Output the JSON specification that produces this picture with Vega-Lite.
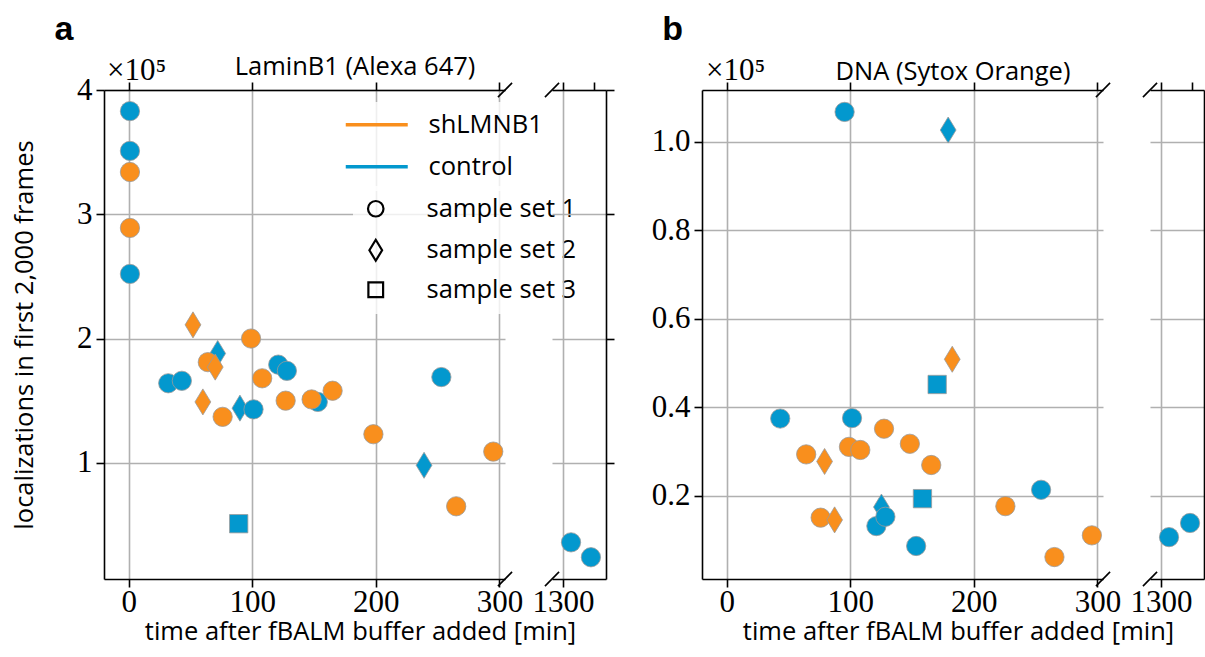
{
  "$schema": "https://vega.github.io/schema/vega-lite/v6.json",
  "padding": {"left": 12, "top": 12, "right": 0, "bottom": 0},
  "background": "white",
  "datasets": {
    "lamin": [
      {"t": 1, "n": 3.83, "group": "control", "set": "sample set 1"},
      {"t": 1, "n": 3.51, "group": "control", "set": "sample set 1"},
      {"t": 1, "n": 2.52, "group": "control", "set": "sample set 1"},
      {"t": 72, "n": 1.88, "group": "control", "set": "sample set 2"},
      {"t": 32, "n": 1.64, "group": "control", "set": "sample set 1"},
      {"t": 43, "n": 1.66, "group": "control", "set": "sample set 1"},
      {"t": 121, "n": 1.79, "group": "control", "set": "sample set 1"},
      {"t": 128, "n": 1.74, "group": "control", "set": "sample set 1"},
      {"t": 90, "n": 1.44, "group": "control", "set": "sample set 2"},
      {"t": 101, "n": 1.43, "group": "control", "set": "sample set 1"},
      {"t": 153, "n": 1.49, "group": "control", "set": "sample set 1"},
      {"t": 253, "n": 1.69, "group": "control", "set": "sample set 1"},
      {"t": 239, "n": 0.98, "group": "control", "set": "sample set 2"},
      {"t": 89, "n": 0.51, "group": "control", "set": "sample set 3"},
      {"t": 1306.5, "n": 0.36, "group": "control", "set": "sample set 1"},
      {"t": 1322.6, "n": 0.24, "group": "control", "set": "sample set 1"},
      {"t": 1, "n": 3.34, "group": "shLMNB1", "set": "sample set 1"},
      {"t": 1, "n": 2.89, "group": "shLMNB1", "set": "sample set 1"},
      {"t": 52, "n": 2.11, "group": "shLMNB1", "set": "sample set 2"},
      {"t": 99, "n": 2.0, "group": "shLMNB1", "set": "sample set 1"},
      {"t": 64, "n": 1.81, "group": "shLMNB1", "set": "sample set 1"},
      {"t": 70, "n": 1.77, "group": "shLMNB1", "set": "sample set 2"},
      {"t": 108, "n": 1.68, "group": "shLMNB1", "set": "sample set 1"},
      {"t": 60, "n": 1.49, "group": "shLMNB1", "set": "sample set 2"},
      {"t": 76, "n": 1.37, "group": "shLMNB1", "set": "sample set 1"},
      {"t": 127, "n": 1.5, "group": "shLMNB1", "set": "sample set 1"},
      {"t": 148, "n": 1.51, "group": "shLMNB1", "set": "sample set 1"},
      {"t": 165, "n": 1.58, "group": "shLMNB1", "set": "sample set 1"},
      {"t": 198, "n": 1.23, "group": "shLMNB1", "set": "sample set 1"},
      {"t": 295, "n": 1.09, "group": "shLMNB1", "set": "sample set 1"},
      {"t": 265, "n": 0.65, "group": "shLMNB1", "set": "sample set 1"}
    ],
    "dna": [
      {"t": 95.4, "n": 1.068, "group": "control", "set": "sample set 1"},
      {"t": 179.2, "n": 1.027, "group": "control", "set": "sample set 2"},
      {"t": 170.3, "n": 0.452, "group": "control", "set": "sample set 3"},
      {"t": 43.3, "n": 0.375, "group": "control", "set": "sample set 1"},
      {"t": 101.4, "n": 0.376, "group": "control", "set": "sample set 1"},
      {"t": 158.4, "n": 0.194, "group": "control", "set": "sample set 3"},
      {"t": 254.4, "n": 0.214, "group": "control", "set": "sample set 1"},
      {"t": 121.1, "n": 0.132, "group": "control", "set": "sample set 1"},
      {"t": 125.2, "n": 0.175, "group": "control", "set": "sample set 2"},
      {"t": 128.4, "n": 0.153, "group": "control", "set": "sample set 1"},
      {"t": 153.3, "n": 0.087, "group": "control", "set": "sample set 1"},
      {"t": 1306.5, "n": 0.107, "group": "control", "set": "sample set 1"},
      {"t": 1323.5, "n": 0.139, "group": "control", "set": "sample set 1"},
      {"t": 182.5, "n": 0.509, "group": "shLMNB1", "set": "sample set 2"},
      {"t": 127.3, "n": 0.352, "group": "shLMNB1", "set": "sample set 1"},
      {"t": 148.2, "n": 0.318, "group": "shLMNB1", "set": "sample set 1"},
      {"t": 98.9, "n": 0.311, "group": "shLMNB1", "set": "sample set 1"},
      {"t": 108.1, "n": 0.304, "group": "shLMNB1", "set": "sample set 1"},
      {"t": 64.3, "n": 0.294, "group": "shLMNB1", "set": "sample set 1"},
      {"t": 79.2, "n": 0.278, "group": "shLMNB1", "set": "sample set 2"},
      {"t": 165.5, "n": 0.27, "group": "shLMNB1", "set": "sample set 1"},
      {"t": 225.5, "n": 0.177, "group": "shLMNB1", "set": "sample set 1"},
      {"t": 76, "n": 0.151, "group": "shLMNB1", "set": "sample set 1"},
      {"t": 87.3, "n": 0.146, "group": "shLMNB1", "set": "sample set 2"},
      {"t": 295.5, "n": 0.111, "group": "shLMNB1", "set": "sample set 1"},
      {"t": 265.2, "n": 0.062, "group": "shLMNB1", "set": "sample set 1"}
    ]
  },
  "hconcat": [
    {
      "title": {"text": "a", "anchor": "start", "frame": "bounds", "font": "Liberation Sans", "fontSize": 34, "fontWeight": "bold", "dx": 42, "offset": 8},
      "spacing": 47,
      "bounds": "flush",
      "hconcat": [
        {
          "width": 401,
          "height": 489,
          "title": {"text": "LaminB1 (Alexa 647)", "anchor": "middle", "frame": "group", "font": "Open Sans", "fontSize": 25.5, "fontWeight": "normal", "dx": 50.5, "offset": -6},
          "layer": [
            {
              "data": {"name": "lamin"},
              "transform": [{"filter": "datum.t < 1000"}],
              "mark": {"type": "point", "filled": true, "size": 372, "stroke": "#9a9a9a", "strokeWidth": 0.8, "opacity": 1},
              "encoding": {
                "x": {"field": "t", "type": "quantitative", "scale": {"domain": [-20, 304.5], "nice": false, "zero": false},
                  "axis": {"values": [0, 100, 200, 300], "format": "d", "grid": true, "labelPadding": 0, "title": "time after fBALM buffer added [min]", "titleX": 256, "titlePadding": 2}},
                "y": {"field": "n", "type": "quantitative", "scale": {"domain": [0.065, 4], "nice": false, "zero": false},
                  "axis": {"values": [1, 2, 3, 4], "format": "d", "grid": true, "title": "localizations in first 2,000 frames", "titlePadding": 39}},
                "fill": {"field": "group", "type": "nominal", "scale": {"domain": ["shLMNB1", "control"], "range": ["#f98f1d", "#0398ce"]}, "legend": null},
                "shape": {"field": "set", "type": "nominal", "scale": {"domain": ["sample set 1", "sample set 2", "sample set 3"], "range": ["circle", "M0,-1.35L0.82,0L0,1.35L-0.82,0Z", "M-0.95,-0.95L0.95,-0.95L0.95,0.95L-0.95,0.95Z"]}, "legend": null}
              }
            },
            {
              "data": {"values": [{}]},
              "mark": {"type": "point", "shape": "M-1,1L1,-1", "size": 200, "stroke": "black", "strokeWidth": 1.6, "filled": false, "opacity": 1},
              "encoding": {
                "x": {"datum": 304.5, "type": "quantitative", "axis": {"orient": "top", "values": [0, 100, 200, 300], "labels": false, "grid": false, "title": null}},
                "y": {"datum": 0.065, "type": "quantitative"}
              }
            },
            {
              "data": {"values": [{}]},
              "mark": {"type": "point", "shape": "M-1,1L1,-1", "size": 200, "stroke": "black", "strokeWidth": 1.6, "filled": false, "opacity": 1},
              "encoding": {
                "x": {"datum": 304.5, "type": "quantitative", "axis": null},
                "y": {"datum": 4, "type": "quantitative"}
              }
            },
            {
              "data": {"name": "lamin"},
              "transform": [{"filter": "datum.t < -1000"}],
              "mark": {"type": "point", "filled": false, "strokeWidth": 3.5, "opacity": 1},
              "encoding": {
                "x": {"datum": 0, "type": "quantitative", "axis": null},
                "y": {"datum": 1, "type": "quantitative"},
                "stroke": {"field": "group", "type": "nominal", "scale": {"domain": ["shLMNB1", "control"], "range": ["#f98f1d", "#0398ce"]},
                  "legend": {"orient": "none", "legendX": 250, "legendY": 12, "title": null, "padding": 10, "fillColor": "rgba(255,255,255,0.8)", "symbolType": "M-3.1,0H3.1", "symbolSize": 400, "symbolStrokeWidth": 3.5, "symbolOpacity": 1, "labelOffset": 39, "rowPadding": 15, "labelFont": "Open Sans", "labelFontSize": 25.5, "labelColor": "black"}}
              }
            },
            {
              "data": {"name": "lamin"},
              "transform": [{"filter": "datum.t < -1000"}],
              "mark": {"type": "point", "filled": false, "color": "black", "strokeWidth": 2.2, "opacity": 1},
              "encoding": {
                "x": {"datum": 0, "type": "quantitative", "axis": null},
                "y": {"datum": 1, "type": "quantitative"},
                "shape": {"field": "set", "type": "nominal", "scale": {"domain": ["sample set 1", "sample set 2", "sample set 3"], "range": ["circle", "M0,-1.35L0.82,0L0,1.35L-0.82,0Z", "M-0.95,-0.95L0.95,-0.95L0.95,0.95L-0.95,0.95Z"]},
                  "legend": {"orient": "none", "legendX": 249, "legendY": 96, "title": null, "padding": 10, "fillColor": "rgba(255,255,255,0.8)", "symbolSize": 240, "symbolStrokeWidth": 2.2, "symbolStrokeColor": "black", "symbolFillColor": "transparent", "symbolOpacity": 1, "labelOffset": 38, "rowPadding": 11.5, "labelFont": "Open Sans", "labelFontSize": 25.5, "labelColor": "black"}}
              }
            }
          ],
          "resolve": {"axis": {"x": "independent"}, "legend": {"shape": "independent", "stroke": "independent"}}
        },
        {
          "width": 54,
          "height": 489,
          "title": {"text": "×10⁵", "anchor": "start", "frame": "group", "font": "Liberation Serif", "fontSize": 31, "fontWeight": "normal", "dx": -445, "offset": -7},
          "layer": [
            {
              "data": {"name": "lamin"},
              "transform": [{"filter": "datum.t > 1000"}],
              "mark": {"type": "point", "filled": true, "size": 372, "stroke": "#9a9a9a", "strokeWidth": 0.8, "opacity": 1},
              "encoding": {
                "x": {"field": "t", "type": "quantitative", "scale": {"domain": [1291.1, 1334.8], "nice": false, "zero": false},
                  "axis": {"values": [1300], "format": "d", "grid": true, "labelPadding": 0, "title": null}},
                "y": {"field": "n", "type": "quantitative", "scale": {"domain": [0.065, 4], "nice": false, "zero": false},
                  "axis": {"orient": "right", "values": [1, 2, 3, 4], "labels": false, "grid": true, "title": null}},
                "fill": {"field": "group", "type": "nominal", "scale": {"domain": ["shLMNB1", "control"], "range": ["#f98f1d", "#0398ce"]}, "legend": null},
                "shape": {"field": "set", "type": "nominal", "scale": {"domain": ["sample set 1", "sample set 2", "sample set 3"], "range": ["circle", "M0,-1.35L0.82,0L0,1.35L-0.82,0Z", "M-0.95,-0.95L0.95,-0.95L0.95,0.95L-0.95,0.95Z"]}, "legend": null}
              }
            },
            {
              "data": {"values": [{}]},
              "mark": {"type": "point", "shape": "M-1,1L1,-1", "size": 200, "stroke": "black", "strokeWidth": 1.6, "filled": false, "opacity": 1},
              "encoding": {
                "x": {"datum": 1291.1, "type": "quantitative", "axis": {"orient": "top", "values": [1300, 1325], "labels": false, "grid": false, "title": null}},
                "y": {"datum": 0.065, "type": "quantitative"}
              }
            },
            {
              "data": {"values": [{}]},
              "mark": {"type": "point", "shape": "M-1,1L1,-1", "size": 200, "stroke": "black", "strokeWidth": 1.6, "filled": false, "opacity": 1},
              "encoding": {
                "x": {"datum": 1291.1, "type": "quantitative", "axis": null},
                "y": {"datum": 4, "type": "quantitative"}
              }
            }
          ],
          "resolve": {"axis": {"x": "independent"}}
        }
      ],
      "resolve": {"legend": {"stroke": "independent", "shape": "independent", "fill": "independent"}}
    },
    {
      "title": {"text": "b", "anchor": "start", "frame": "bounds", "font": "Liberation Sans", "fontSize": 34, "fontWeight": "bold", "dx": 11, "offset": 8},
      "spacing": 47,
      "bounds": "flush",
      "hconcat": [
        {
          "width": 401,
          "height": 489,
          "title": {"text": "DNA (Sytox Orange)", "anchor": "middle", "frame": "group", "font": "Open Sans", "fontSize": 25.5, "fontWeight": "normal", "dx": 50.5, "offset": -6},
          "layer": [
            {
              "data": {"name": "dna"},
              "transform": [{"filter": "datum.t < 1000"}],
              "mark": {"type": "point", "filled": true, "size": 372, "stroke": "#9a9a9a", "strokeWidth": 0.8, "opacity": 1},
              "encoding": {
                "x": {"field": "t", "type": "quantitative", "scale": {"domain": [-20, 304.5], "nice": false, "zero": false},
                  "axis": {"values": [0, 100, 200, 300], "format": "d", "grid": true, "labelPadding": 0, "title": "time after fBALM buffer added [min]", "titleX": 256, "titlePadding": 2}},
                "y": {"field": "n", "type": "quantitative", "scale": {"domain": [0.0124, 1.1175], "nice": false, "zero": false},
                  "axis": {"values": [0.2, 0.4, 0.6, 0.8, 1.0], "format": ".1f", "grid": true, "title": null}},
                "fill": {"field": "group", "type": "nominal", "scale": {"domain": ["shLMNB1", "control"], "range": ["#f98f1d", "#0398ce"]}, "legend": null},
                "shape": {"field": "set", "type": "nominal", "scale": {"domain": ["sample set 1", "sample set 2", "sample set 3"], "range": ["circle", "M0,-1.35L0.82,0L0,1.35L-0.82,0Z", "M-0.95,-0.95L0.95,-0.95L0.95,0.95L-0.95,0.95Z"]}, "legend": null}
              }
            },
            {
              "data": {"values": [{}]},
              "mark": {"type": "point", "shape": "M-1,1L1,-1", "size": 200, "stroke": "black", "strokeWidth": 1.6, "filled": false, "opacity": 1},
              "encoding": {
                "x": {"datum": 304.5, "type": "quantitative", "axis": {"orient": "top", "values": [0, 100, 200, 300], "labels": false, "grid": false, "title": null}},
                "y": {"datum": 0.0124, "type": "quantitative"}
              }
            },
            {
              "data": {"values": [{}]},
              "mark": {"type": "point", "shape": "M-1,1L1,-1", "size": 200, "stroke": "black", "strokeWidth": 1.6, "filled": false, "opacity": 1},
              "encoding": {
                "x": {"datum": 304.5, "type": "quantitative", "axis": null},
                "y": {"datum": 1.1175, "type": "quantitative"}
              }
            }
          ],
          "resolve": {"axis": {"x": "independent"}}
        },
        {
          "width": 54,
          "height": 489,
          "title": {"text": "×10⁵", "anchor": "start", "frame": "group", "font": "Liberation Serif", "fontSize": 31, "fontWeight": "normal", "dx": -444, "offset": -7},
          "layer": [
            {
              "data": {"name": "dna"},
              "transform": [{"filter": "datum.t > 1000"}],
              "mark": {"type": "point", "filled": true, "size": 372, "stroke": "#9a9a9a", "strokeWidth": 0.8, "opacity": 1},
              "encoding": {
                "x": {"field": "t", "type": "quantitative", "scale": {"domain": [1291.1, 1334.8], "nice": false, "zero": false},
                  "axis": {"values": [1300], "format": "d", "grid": true, "labelPadding": 0, "title": null}},
                "y": {"field": "n", "type": "quantitative", "scale": {"domain": [0.0124, 1.1175], "nice": false, "zero": false},
                  "axis": {"orient": "right", "values": [0.2, 0.4, 0.6, 0.8, 1.0], "labels": false, "grid": true, "title": null}},
                "fill": {"field": "group", "type": "nominal", "scale": {"domain": ["shLMNB1", "control"], "range": ["#f98f1d", "#0398ce"]}, "legend": null},
                "shape": {"field": "set", "type": "nominal", "scale": {"domain": ["sample set 1", "sample set 2", "sample set 3"], "range": ["circle", "M0,-1.35L0.82,0L0,1.35L-0.82,0Z", "M-0.95,-0.95L0.95,-0.95L0.95,0.95L-0.95,0.95Z"]}, "legend": null}
              }
            },
            {
              "data": {"values": [{}]},
              "mark": {"type": "point", "shape": "M-1,1L1,-1", "size": 200, "stroke": "black", "strokeWidth": 1.6, "filled": false, "opacity": 1},
              "encoding": {
                "x": {"datum": 1291.1, "type": "quantitative", "axis": {"orient": "top", "values": [1300, 1325], "labels": false, "grid": false, "title": null}},
                "y": {"datum": 0.0124, "type": "quantitative"}
              }
            },
            {
              "data": {"values": [{}]},
              "mark": {"type": "point", "shape": "M-1,1L1,-1", "size": 200, "stroke": "black", "strokeWidth": 1.6, "filled": false, "opacity": 1},
              "encoding": {
                "x": {"datum": 1291.1, "type": "quantitative", "axis": null},
                "y": {"datum": 1.1175, "type": "quantitative"}
              }
            }
          ],
          "resolve": {"axis": {"x": "independent"}}
        }
      ],
      "resolve": {"legend": {"stroke": "independent", "shape": "independent", "fill": "independent"}}
    }
  ],
  "spacing": 36,
  "resolve": {"legend": {"stroke": "independent", "shape": "independent", "fill": "independent"}},
  "config": {
    "view": {"stroke": null},
    "axis": {
      "domainColor": "black", "domainWidth": 1.6, "tickColor": "black", "tickWidth": 1.6, "tickSize": 8,
      "gridColor": "#b0b0b0", "gridWidth": 1.6, "gridOpacity": 1,
      "labelFont": "Liberation Serif", "labelFontSize": 31, "labelColor": "black", "labelPadding": 4,
      "titleFont": "Open Sans", "titleFontSize": 25.5, "titleFontWeight": "normal", "titleColor": "black"
    },
    "legend": {"labelFont": "Open Sans", "labelFontSize": 25.5, "labelColor": "black"}
  }
}
